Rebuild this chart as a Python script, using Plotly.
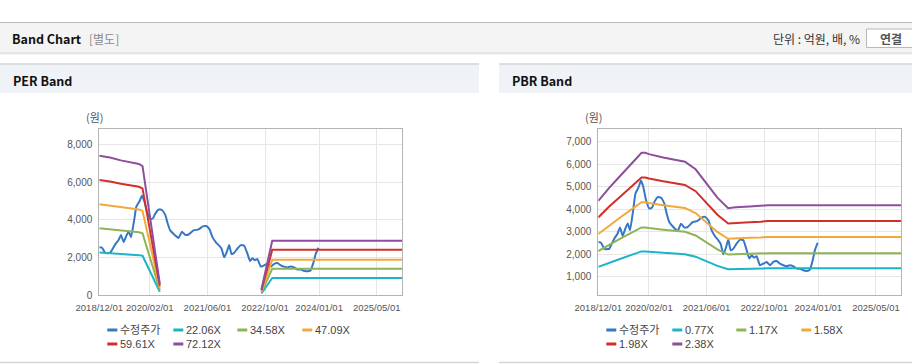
import plotly.graph_objects as go

W, H = 912, 364


def X(px):
    return px / W


def Y(py):
    return 1 - py / H


# ---------------- data ----------------
price_dates = [
    "2018-12-01", "2018-12-24", "2019-01-21", "2019-02-20", "2019-03-04", "2019-03-18",
    "2019-04-15", "2019-05-13", "2019-06-02", "2019-06-25", "2019-07-17", "2019-08-06",
    "2019-08-26", "2019-09-23", "2019-10-10", "2019-11-07", "2019-11-26", "2019-12-16",
    "2020-01-08", "2020-02-05", "2020-02-27", "2020-03-18", "2020-04-15", "2020-05-13",
    "2020-06-10", "2020-06-30", "2020-07-22", "2020-08-25", "2020-10-01", "2020-10-29",
    "2020-11-26", "2020-12-24", "2021-02-04", "2021-03-18", "2021-04-24", "2021-05-20",
    "2021-06-17", "2021-07-15", "2021-08-12", "2021-09-09", "2021-09-28", "2021-10-21",
    "2021-11-12", "2021-12-02", "2021-12-22", "2022-01-13", "2022-02-10", "2022-03-11",
    "2022-04-08", "2022-05-06", "2022-05-28", "2022-06-17", "2022-07-07", "2022-07-29",
    "2022-08-26", "2022-09-23", "2022-10-22", "2022-11-19", "2022-12-17", "2023-01-14",
    "2023-02-11", "2023-03-11", "2023-04-08", "2023-05-06", "2023-06-04", "2023-07-02",
    "2023-07-30", "2023-08-27", "2023-09-24", "2023-10-22", "2023-11-14", "2023-12-03",
    "2023-12-26",
]
price_vals = [
    2550, 2520, 2250, 2240, 2260, 2400,
    2700, 2930, 3200, 2820, 3150, 3380,
    3080, 4040, 4700, 5000, 5280, 5000,
    4410, 4040, 4080, 4330, 4550, 4520,
    4260, 3820, 3440, 3220, 3040, 3370,
    3200, 3220, 3440, 3490, 3650, 3670,
    3520, 3070, 2810, 2630, 2480, 2010,
    2300, 2660, 2190, 2250, 2480, 2660,
    2630, 2190, 1820, 1960, 1860, 1920,
    1520, 1590, 1670, 1520, 1670, 1710,
    1590, 1520, 1475, 1520, 1475, 1370,
    1370, 1300, 1270, 1330, 1740, 2190,
    2520,
]

per_dates = ["2018-12-01", "2019-03-01", "2019-06-01", "2019-09-01", "2019-11-01",
             "2019-12-01", "2020-04-25", "2021-06-01", "2022-09-01", "2022-12-01",
             "2025-12-01"]
per_2206 = [2263, 2232, 2186, 2157, 2129, 2096, 188, None, 97, 920, 920]
per_3458 = [3548, 3500, 3427, 3382, 3337, 3285, 294, None, 152, 1405, 1405]
per_4709 = [4831, 4766, 4667, 4605, 4544, 4474, 400, None, 207, 1880, 1880]
per_5961 = [6116, 6033, 5907, 5830, 5752, 5663, 507, None, 262, 2410, 2410]
per_7212 = [7400, 7300, 7150, 7050, 6960, 6850, 613, None, 317, 2895, 2895]

pbr_dates = ["2018-12-01", "2019-03-01", "2019-06-01", "2019-09-01", "2019-12-01",
             "2020-01-01", "2020-02-01", "2020-06-01", "2020-11-01", "2020-12-01",
             "2021-03-01", "2021-06-01", "2021-09-01", "2021-12-01", "2022-02-01",
             "2022-06-01", "2022-09-01", "2022-11-01", "2025-12-01"]
pbr_077 = [1447, 1632, 1801, 1970, 2137, 2137, 2118, 2071, 2024, 2009, 1901, 1693,
           1493, 1343, 1354, 1366, 1374, 1384, 1384]
pbr_117 = [2153, 2434, 2691, 2948, 3201, 3201, 3173, 3101, 3030, 3007, 2843, 2527,
           2223, 1995, 2012, 2030, 2042, 2058, 2058]
pbr_158 = [2907, 3286, 3634, 3982, 4323, 4323, 4285, 4187, 4092, 4061, 3839, 3413,
           3002, 2694, 2718, 2741, 2757, 2779, 2779]
pbr_198 = [3643, 4118, 4554, 4990, 5417, 5417, 5370, 5247, 5128, 5089, 4811, 4277,
           3762, 3376, 3406, 3435, 3455, 3483, 3483]
pbr_238 = [4379, 4950, 5474, 5998, 6512, 6512, 6455, 6307, 6164, 6117, 5783, 5141,
           4522, 4058, 4094, 4129, 4153, 4186, 4186]

per_labels = ["수정주가", "22.06X", "34.58X", "47.09X", "59.61X", "72.12X"]
pbr_labels = ["수정주가", "0.77X", "1.17X", "1.58X", "1.98X", "2.38X"]
colors = ["#3577c6", "#1db3c8", "#8db456", "#f2a93b", "#d32f2a", "#8e4d9d"]

x_tickvals = ["2018-12-01", "2020-02-01", "2021-06-01", "2022-10-01", "2024-01-01", "2025-05-01"]
x_ticktext = ["2018/12/01", "2020/02/01", "2021/06/01", "2022/10/01", "2024/01/01", "2025/05/01"]
x_range = ["2018-12-01", "2025-12-01"]

# ---------------- figure ----------------
fig = go.Figure()

per_bands = [per_2206, per_3458, per_4709, per_5961, per_7212]
pbr_bands = [pbr_077, pbr_117, pbr_158, pbr_198, pbr_238]

for xa, ya, dates, bands, labels in [("x", "y", per_dates, per_bands, per_labels),
                                     ("x2", "y2", pbr_dates, pbr_bands, pbr_labels)]:
    fig.add_trace(go.Scatter(x=price_dates, y=price_vals, mode="lines", name=labels[0],
                             line=dict(color=colors[0], width=2, shape="spline", smoothing=0.4),
                             xaxis=xa, yaxis=ya, showlegend=False, connectgaps=False))
    for i, b in enumerate(bands):
        fig.add_trace(go.Scatter(x=dates, y=b, mode="lines", name=labels[i + 1],
                                 line=dict(color=colors[i + 1], width=2),
                                 xaxis=xa, yaxis=ya, showlegend=False, connectgaps=False))

font_num = "Liberation Sans, Arial, Noto Sans CJK KR"
font_kr = "Noto Sans CJK KR, Liberation Sans"

common_x = dict(type="date", range=x_range, tickvals=x_tickvals, ticktext=x_ticktext,
                tickangle=0, automargin=False,
                showgrid=True, gridcolor="#e6e6e6", gridwidth=1,
                showline=True, linecolor="#b4b4b4", linewidth=1, mirror=True,
                ticks="outside", ticklen=3, tickcolor="rgba(0,0,0,0)",
                tickfont=dict(family=font_num, size=9.5, color="#555555"),
                zeroline=False, fixedrange=True)
common_y = dict(showgrid=True, gridcolor="#e6e6e6", gridwidth=1, automargin=False,
                showline=True, linecolor="#b4b4b4", linewidth=1, mirror=True,
                ticks="outside", ticklen=4, tickcolor="rgba(0,0,0,0)",
                tickfont=dict(family=font_num, size=10, color="#555555"),
                tickformat=",", zeroline=False, fixedrange=True)

per_left, per_right = 99.3, 402
pbr_left, pbr_right = 598.3, 901.3
top, bottom = 128.5, 295.3

fig.update_layout(
    width=W, height=H, autosize=False,
    margin=dict(l=0, r=0, t=0, b=0, pad=0),
    paper_bgcolor="white", plot_bgcolor="white",
    xaxis=dict(domain=[X(per_left), X(per_right)], anchor="y", **common_x),
    yaxis=dict(domain=[Y(bottom), Y(top)], anchor="x", range=[0, 8840],
               tickvals=[0, 2000, 4000, 6000, 8000], **common_y),
    xaxis2=dict(domain=[X(pbr_left), X(pbr_right)], anchor="y2", **common_x),
    yaxis2=dict(domain=[Y(bottom), Y(top)], anchor="x2", range=[187, 7594],
                tickvals=[1000, 2000, 3000, 4000, 5000, 6000, 7000], **common_y),
    showlegend=False,
)

shapes = []
ann = []


def rect(x0, y0, x1, y1, fill, line=None, lw=0):
    shapes.append(dict(type="rect", xref="paper", yref="paper", layer="below",
                       x0=X(x0), x1=X(x1), y0=Y(y1), y1=Y(y0), fillcolor=fill,
                       line=dict(color=line or fill, width=lw)))


def hline(x0, x1, y, color, w=1):
    shapes.append(dict(type="line", xref="paper", yref="paper", layer="below",
                       x0=X(x0), x1=X(x1), y0=Y(y), y1=Y(y), line=dict(color=color, width=w)))


def text(x, y, s, size=12, color="#000", family=font_kr, xanchor="left"):
    ann.append(dict(xref="paper", yref="paper", x=X(x), y=Y(y), text=s, showarrow=False,
                    xanchor=xanchor, yanchor="middle", borderpad=0,
                    font=dict(family=family, size=size, color=color)))


# header bar
rect(0, 22.5, W, 52.5, "#f4f4f4")
hline(0, W, 22.5, "#b9b9b9", 1)
hline(0, W, 53, "#cfcfcf", 1)
hline(0, W, 54, "#e6e6e6", 1)
text(11, 38.5, "<b>Band Chart</b>", size=12.5, color="#111")
text(88, 38.5, "[별도]", size=12, color="#8a8a8a")
text(861, 38.5, "단위 : 억원, 배, %", size=12, color="#333", xanchor="right")
rect(866.5, 29, 915, 47.5, "#ffffff", line="#b8b8b8", lw=1)
text(891, 38.5, "<b>연결</b>", size=12, color="#555", xanchor="center")

# panels
for (x0, x1, title) in [(0, 479, "PER Band"), (499, W, "PBR Band")]:
    rect(x0, 64, x1, 93, "#eff2f7")
    hline(x0, x1, 64, "#d4d4d4", 1.5)
    hline(x0, x1, 362.5, "#d4d4d4", 1.5)
    text(x0 + 11.5, 80.5, "<b>" + title + "</b>", size=12.5, color="#111")

# unit labels
text(94.5, 117.5, "(원)", size=11, color="#555", xanchor="center")
text(593.5, 117.5, "(원)", size=11, color="#555", xanchor="center")

# legends (manual, fixed-width entries)
col_off = [8, 74, 138, 203]
rows = [330, 344]
for left, labels in [(per_left, per_labels), (pbr_left, pbr_labels)]:
    for i, lab in enumerate(labels):
        r, c = divmod(i, 4)
        lx = left + col_off[c]
        ly = rows[r]
        shapes.append(dict(type="line", xref="paper", yref="paper",
                           x0=X(lx), x1=X(lx + 10), y0=Y(ly), y1=Y(ly),
                           line=dict(color=colors[i], width=3)))
        text(lx + 12, ly, lab, size=11, color="#444", family=font_num)

fig.update_layout(shapes=shapes, annotations=ann)

fig.write_html("out.html", config={"displayModeBar": False},
               post_script="document.body.style.margin='0';document.body.style.overflow='hidden';")
